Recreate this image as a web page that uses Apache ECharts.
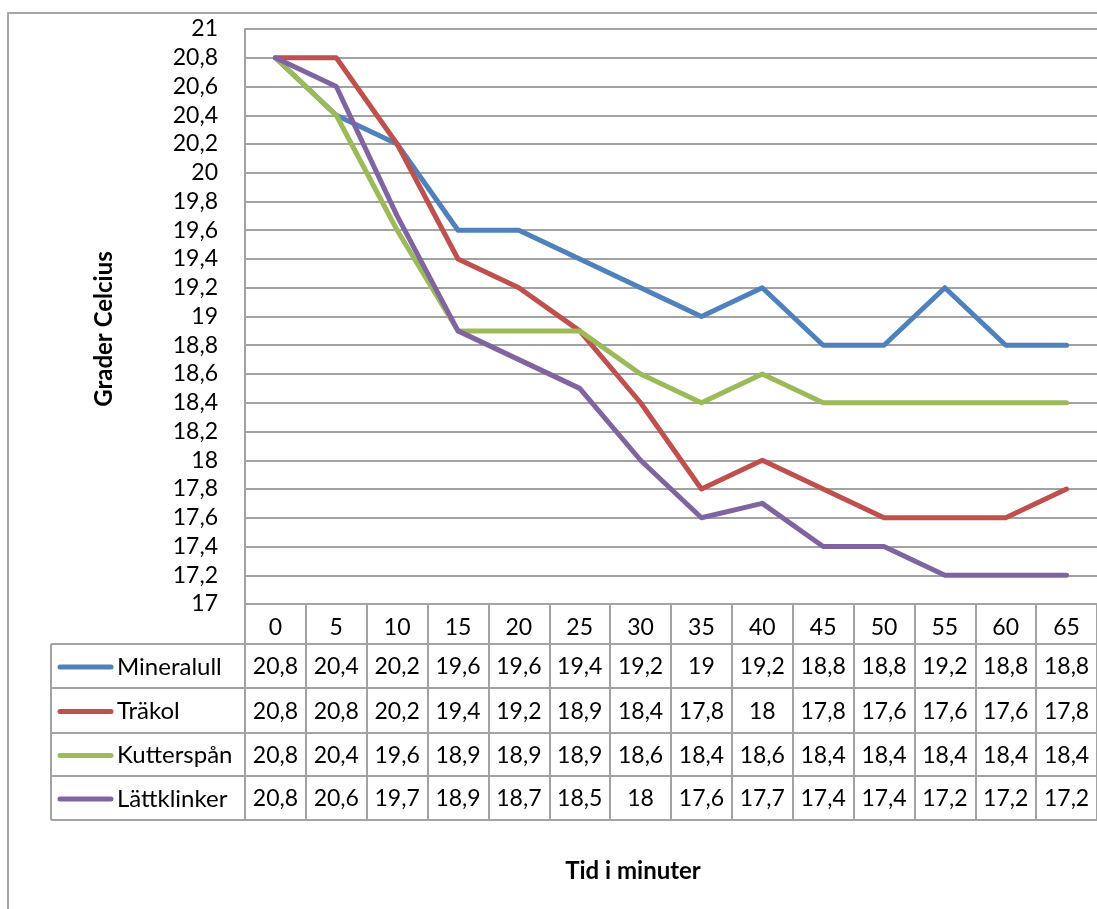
<!DOCTYPE html>
<html>
<head>
<meta charset="utf-8">
<script src="https://cdn.jsdelivr.net/npm/echarts@6/dist/echarts.min.js"></script>
<style>
  html, body { margin: 0; padding: 0; background: #fff; }
  #chart { width: 1097px; height: 909px; }
</style>
</head>
<body>
<div id="chart"></div>
<script>
// Temperature (°C) measured every 5 minutes for four insulation materials
const minutes = ['0', '5', '10', '15', '20', '25', '30', '35', '40', '45', '50', '55', '60', '65'];
const mineralull = [20.8, 20.4, 20.2, 19.6, 19.6, 19.4, 19.2, 19, 19.2, 18.8, 18.8, 19.2, 18.8, 18.8];
const trakol = [20.8, 20.8, 20.2, 19.4, 19.2, 18.9, 18.4, 17.8, 18, 17.8, 17.6, 17.6, 17.6, 17.8];
const kutterspan = [20.8, 20.4, 19.6, 18.9, 18.9, 18.9, 18.6, 18.4, 18.6, 18.4, 18.4, 18.4, 18.4, 18.4];
const lattklinker = [20.8, 20.6, 19.7, 18.9, 18.7, 18.5, 18, 17.6, 17.7, 17.4, 17.4, 17.2, 17.2, 17.2];
const seriesNames = ['Mineralull', 'Träkol', 'Kutterspån', 'Lättklinker'];
const seriesValues = [mineralull, trakol, kutterspan, lattklinker];
const colors = ['#4F81BD', '#C0504D', '#9BBB59', '#8064A2'];

const FONT = 'Lato, "Open Sans", sans-serif';
const NUM_SIZE = 23;
const GRID_COLOR = '#a2a2a2';
const fmt = v => String(Math.round(v * 10) / 10).replace('.', ',');

// table geometry (rows under the plot)
const tableTop = 604;
const rowLines = [644, 688, 733, 776, 820];
const legendLeft = 51;

const chart = echarts.init(document.getElementById('chart'), null, { renderer: 'canvas' });

const option = {
  animation: false,
  backgroundColor: '#fff',
  grid: { left: 245, top: 29, width: 854, height: 575, containLabel: false },
  xAxis: {
    type: 'category',
    data: minutes,
    boundaryGap: true,
    axisLine: { show: true, lineStyle: { color: GRID_COLOR, width: 2 } },
    axisTick: { show: true, interval: 0, alignWithLabel: false, length: rowLines[rowLines.length - 1] - tableTop,
                lineStyle: { color: GRID_COLOR, width: 2 } },
    axisLabel: { interval: 0, margin: 12, fontFamily: FONT, fontSize: NUM_SIZE, color: '#000' },
    splitLine: { show: false }
  },
  yAxis: {
    type: 'value',
    min: 17, max: 21, interval: 0.2,
    axisLine: { show: true, lineStyle: { color: GRID_COLOR, width: 2 } },
    axisTick: { show: false },
    axisLabel: { margin: 27, fontFamily: FONT, fontSize: NUM_SIZE, color: '#000', formatter: fmt },
    splitLine: { show: true, lineStyle: { color: GRID_COLOR, width: 2 } }
  },
  series: seriesNames.map((name, i) => ({
    name: name,
    type: 'line',
    data: seriesValues[i],
    showSymbol: false,
    symbol: 'none',
    lineStyle: { color: colors[i], width: 5, cap: 'round', join: 'round' },
    itemStyle: { color: colors[i] },
    z: 3 + i
  }))
};
chart.setOption(option);

// data table, legend keys, titles and chart border
const elements = [];
const step = chart.convertToPixel({ xAxisIndex: 0 }, minutes[1]) - chart.convertToPixel({ xAxisIndex: 0 }, minutes[0]);
const plotRight = chart.convertToPixel({ xAxisIndex: 0 }, minutes[minutes.length - 1]) + step / 2;
const plotLeft = chart.convertToPixel({ xAxisIndex: 0 }, minutes[0]) - step / 2;

rowLines.forEach(y => {
  elements.push({ type: 'line', shape: { x1: legendLeft, y1: y, x2: plotRight, y2: y },
                  style: { stroke: GRID_COLOR, lineWidth: 2 }, silent: true });
});
elements.push({ type: 'line', shape: { x1: legendLeft, y1: rowLines[0], x2: legendLeft, y2: rowLines[rowLines.length - 1] },
                style: { stroke: GRID_COLOR, lineWidth: 2 }, silent: true });
elements.push({ type: 'line', shape: { x1: plotLeft, y1: rowLines[0], x2: plotLeft, y2: rowLines[rowLines.length - 1] },
                style: { stroke: GRID_COLOR, lineWidth: 2 }, silent: true });

seriesNames.forEach((name, r) => {
  const yc = (rowLines[r] + rowLines[r + 1]) / 2 + 1;
  elements.push({ type: 'line', shape: { x1: 60, y1: yc, x2: 111, y2: yc },
                  style: { stroke: colors[r], lineWidth: 5, lineCap: 'round' }, silent: true });
  elements.push({ type: 'text', x: 117, y: yc,
                  style: { text: name, font: '24px ' + FONT, fill: '#000', textAlign: 'left', textVerticalAlign: 'middle' },
                  silent: true });
  seriesValues[r].forEach((v, c) => {
    const xc = chart.convertToPixel({ xAxisIndex: 0 }, minutes[c]);
    elements.push({ type: 'text', x: xc, y: yc,
                    style: { text: fmt(v), font: NUM_SIZE + 'px ' + FONT, fill: '#000', textAlign: 'center', textVerticalAlign: 'middle' },
                    silent: true });
  });
});

// axis titles
elements.push({ type: 'text', x: 104, y: 329, rotation: Math.PI / 2,
                style: { text: 'Grader Celcius', font: 'bold 24px ' + FONT, fill: '#000', textAlign: 'center', textVerticalAlign: 'middle' },
                silent: true });
elements.push({ type: 'text', x: 633, y: 871,
                style: { text: 'Tid i minuter', font: 'bold 24px ' + FONT, fill: '#000', textAlign: 'center', textVerticalAlign: 'middle' },
                silent: true });

// outer chart border
elements.push({ type: 'polyline', shape: { points: [[8, 909], [8, 13], [1097, 13]] },
                style: { stroke: '#a6a6a6', lineWidth: 2, fill: null }, silent: true });

chart.setOption({ graphic: { elements: elements } });
</script>
</body>
</html>
